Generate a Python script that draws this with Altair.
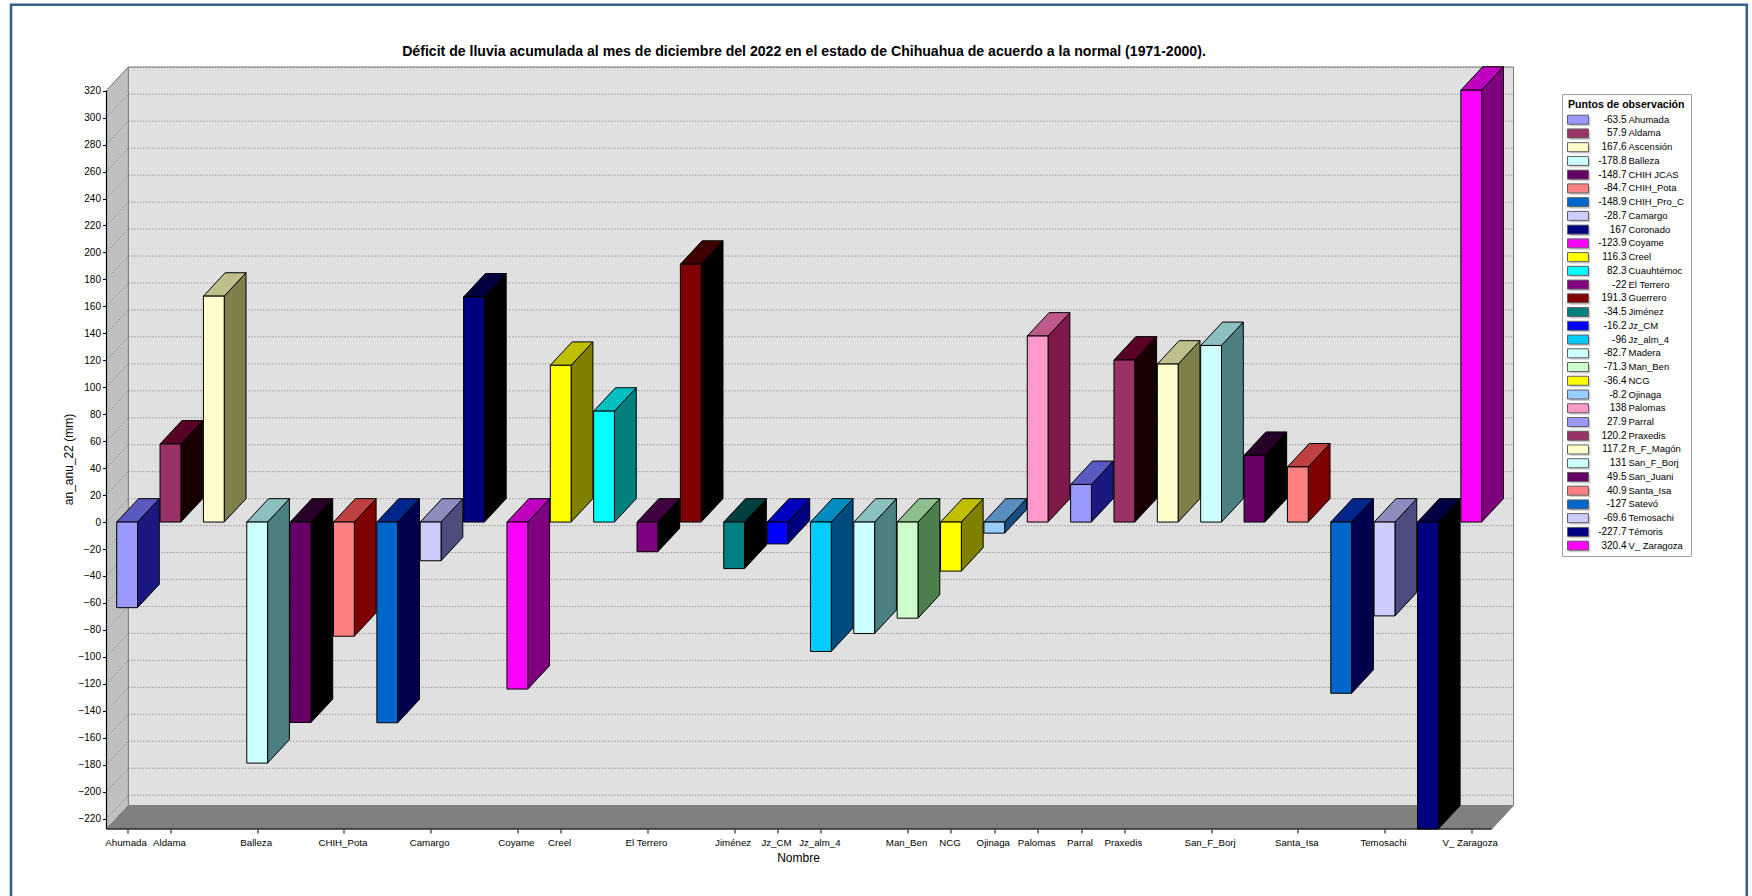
import altair as alt
import pandas as pd

# Station names, anomaly values (mm) and front-face colours
names = ["Ahumada", "Aldama", "Ascensión", "Balleza", "CHIH JCAS", "CHIH_Pota", "CHIH_Pro_C", "Camargo",
         "Coronado", "Coyame", "Creel", "Cuauhtémoc", "El Terrero", "Guerrero", "Jiménez", "Jz_CM",
         "Jz_alm_4", "Madera", "Man_Ben", "NCG", "Ojinaga", "Palomas", "Parral", "Praxedis",
         "R_F_Magón", "San_F_Borj", "San_Juani", "Santa_Isa", "Satevó", "Temosachi", "Témoris", "V_ Zaragoza"]
values = [-63.5, 57.9, 167.6, -178.8, -148.7, -84.7, -148.9, -28.7, 167, -123.9, 116.3, 82.3, -22, 191.3,
          -34.5, -16.2, -96, -82.7, -71.3, -36.4, -8.2, 138, 27.9, 120.2, 117.2, 131, 49.5, 40.9, -127,
          -69.6, -227.7, 320.4]
colors = ["#9999ff", "#993366", "#ffffcc", "#ccffff", "#660066", "#ff8080", "#0066cc", "#ccccff",
          "#000080", "#ff00ff", "#ffff00", "#00ffff", "#800080", "#800000", "#008080", "#0000ff",
          "#00ccff", "#ccffff", "#ccffcc", "#ffff00", "#99ccff", "#ff99cc", "#9999ff", "#993366",
          "#ffffcc", "#ccffff", "#660066", "#ff8080", "#0066cc", "#ccccff", "#000080", "#ff00ff"]
tick_stations = ["Ahumada", "Aldama", "Balleza", "CHIH_Pota", "Camargo", "Coyame", "Creel", "El Terrero",
                 "Jiménez", "Jz_CM", "Jz_alm_4", "Man_Ben", "NCG", "Ojinaga", "Palomas", "Parral",
                 "Praxedis", "San_F_Borj", "Santa_Isa", "Temosachi", "V_ Zaragoza"]
y_ticks = list(range(-220, 321, 20))

TITLE = ("Déficit de lluvia acumulada al mes de diciembre del 2022 en el estado de Chihuahua "
         "de acuerdo a la normal (1971-2000).")
FONT = "Liberation Sans"

# Page geometry of the plot box, which runs from the front-left corner to the back-right corner
LEFT, RIGHT, TOP, BOTTOM = 106.5, 1513.5, 67.0, 829.0
PAGE_W, PAGE_H = 1752, 896
STEP = 43.36            # pixels per station
FIRST_BAR = 116.7       # left edge of the first bar
Y_PER_UNIT = 1.348      # pixels per millimetre
Y_ZERO = 522.06         # page row of the zero line
DEPTH_X, DEPTH_Y = 21.8, 23.4


def col(px):
    """Page column to x-scale units."""
    return (px - FIRST_BAR) / STEP


def row(py):
    """Page row to y-scale units."""
    return (Y_ZERO - py) / Y_PER_UNIT


BAR_W = 20.8 / STEP
DX = DEPTH_X / STEP
DY = DEPTH_Y / Y_PER_UNIT
x_scale = alt.Scale(domain=[col(LEFT), col(RIGHT)], nice=False, zero=False)
y_scale = alt.Scale(domain=[row(BOTTOM), row(TOP)], nice=False, zero=False)


def shade(hex_color, amount):
    """Darken a colour by a fixed amount per channel for the faces in shadow."""
    parts = [int(hex_color[i:i + 2], 16) for i in (1, 3, 5)]
    return "#" + "".join(f"{max(0, p - amount):02x}" for p in parts)


# Long tables for the three visible faces of each column
front, side, top = [], [], []
for i, (name, value, color) in enumerate(zip(names, values, colors)):
    high, low = max(value, 0), min(value, 0)
    front.append(dict(name=name, x=i, x2=i + BAR_W, y=low, y2=high, fill=color))
    for x, shift in ((i + BAR_W, 0), (i + BAR_W + DX, DY)):
        side.append(dict(name=name, x=x, y=low + shift, y2=high + shift, fill=shade(color, 128)))
    for shift_x, shift in ((0, 0), (DX, DY)):
        top.append(dict(name=name, x=i + shift_x, x2=i + BAR_W + shift_x, y=high + shift, fill=shade(color, 64)))

x_axis = alt.Axis(
    values=[names.index(n) + BAR_W / 2 for n in tick_stations],
    labelExpr="[" + ",".join(f"'{n}'" for n in names) + f"][round(datum.value - {BAR_W / 2})]",
    grid=False, domain=False, tickColor="black", tickSize=4, labelFont=FONT, labelFontSize=9.7, labelColor="black",
    labelPadding=4, labelOffset=-1.5, labelFlush=False, labelOverlap=False, title="Nombre", titleFont=FONT,
    titleFontSize=12, titleFontWeight="normal", titleColor="black", titleX=691.5, titlePadding=6,
)
y_axis = alt.Axis(
    values=y_ticks, grid=False, domain=False, tickColor="black", tickSize=4, labelFont=FONT, labelFontSize=10,
    labelColor="black", labelPadding=2, labelOverlap=False, labelFlush=False, title="an_anu_22 (mm)", titleFont=FONT,
    titleFontSize=12, titleFontWeight="normal", titleColor="black", titleX=-31, titleY=392,
)


def X(field="x"):
    return alt.X(f"{field}:Q", scale=x_scale, axis=x_axis, stack=None)


def Y(field="y"):
    return alt.Y(f"{field}:Q", scale=y_scale, axis=y_axis, stack=None)


FILL = alt.Fill("fill:N", scale=None, legend=None)

# Box walls
wall_left = col(LEFT + DEPTH_X)
back_wall = alt.Chart(pd.DataFrame([dict(x=wall_left, x2=col(RIGHT), y=row(BOTTOM - DEPTH_Y), y2=row(TOP))])).mark_rect(
    fill="#e0e0e0", stroke="#808080", strokeWidth=1
).encode(x=X(), x2="x2:Q", y=Y(), y2="y2:Q")
side_wall = alt.Chart(pd.DataFrame([
    dict(x=col(LEFT), y=row(BOTTOM), y2=row(TOP + DEPTH_Y)),
    dict(x=wall_left, y=row(BOTTOM - DEPTH_Y), y2=row(TOP)),
])).mark_area(fill="#c0c0c0", stroke="#808080", strokeWidth=1).encode(x=X(), y=Y(), y2="y2:Q")
floor = alt.Chart(pd.DataFrame([
    dict(x=col(LEFT), x2=col(RIGHT - DEPTH_X), y=row(BOTTOM)),
    dict(x=wall_left, x2=col(RIGHT), y=row(BOTTOM - DEPTH_Y)),
])).mark_area(orient="horizontal", fill="#808080", stroke="#808080", strokeWidth=1).encode(
    x=X(), x2="x2:Q", y=Y()
)

# Dotted guide lines on the back wall and the side wall
back_grid = alt.Chart(pd.DataFrame([dict(x=wall_left, x2=col(RIGHT), y=v + DY) for v in y_ticks])).mark_rule(
    color="#606060", strokeWidth=0.8, strokeDash=[1, 2]
).encode(x=X(), x2="x2:Q", y=Y())
side_grid = alt.Chart(pd.DataFrame([dict(x=col(LEFT), x2=wall_left, y=v, y2=v + DY) for v in y_ticks])).mark_rule(
    color="#707070", strokeWidth=0.8, strokeDash=[1, 2]
).encode(x=X(), x2="x2:Q", y=Y(), y2="y2:Q")

# Column faces
side_faces = alt.Chart(pd.DataFrame(side)).mark_area(stroke="#000000", strokeWidth=1).encode(
    x=X(), y=Y(), y2="y2:Q", fill=FILL, detail="name:N"
)
top_faces = alt.Chart(pd.DataFrame(top)).mark_area(orient="horizontal", stroke="#000000", strokeWidth=1).encode(
    x=X(), x2="x2:Q", y=Y(), fill=FILL, detail="name:N"
)
front_faces = alt.Chart(pd.DataFrame(front)).mark_rect(stroke="#000000", strokeWidth=1).encode(
    x=X(), x2="x2:Q", y=Y(), y2="y2:Q", fill=FILL
)

# Axis lines stop at the front edge of the box
y_line = alt.Chart(pd.DataFrame([dict(x=col(LEFT), y=row(BOTTOM), y2=320)])).mark_rule(
    color="black", strokeWidth=1.2
).encode(x=X(), y=Y(), y2="y2:Q")
x_line = alt.Chart(pd.DataFrame([dict(x=col(LEFT), x2=col(RIGHT - DEPTH_X), y=row(BOTTOM))])).mark_rule(
    color="black", strokeWidth=1.2
).encode(x=X(), x2="x2:Q", y=Y())

# Figure heading, written as a text mark so it sits at a fixed spot under the frame
heading = alt.Chart(pd.DataFrame([dict(x=col(804), y=row(52), t=TITLE)])).mark_text(
    font=FONT, fontSize=14.1, fontWeight="bold", align="center", baseline="middle", color="black"
).encode(x=X(), y=Y(), text="t:N")

# Legend box with one row per station
ROW0, ROW_STEP = 119.7, 13.74
legend = pd.DataFrame([
    dict(name=n, label=f"{v:g}", fill=c, y=row(ROW0 + k * ROW_STEP))
    for k, (n, v, c) in enumerate(zip(names, values, colors))
])
legend["sy"] = legend["y"] + 4.5 / Y_PER_UNIT
legend["sy2"] = legend["y"] - 4.5 / Y_PER_UNIT
legend["x"] = col(1567.5)
legend["x2"] = col(1588.5)
legend["vx"] = col(1626.5)
legend["nx"] = col(1628.5)
legend["shx"] = col(1569.5)
legend["shx2"] = col(1590.5)
legend["shy"] = legend["sy"] - 2 / Y_PER_UNIT
legend["shy2"] = legend["sy2"] - 2 / Y_PER_UNIT

legend_box = alt.Chart(pd.DataFrame([dict(x=col(1562.5), x2=col(1691.5), y=row(94.5), y2=row(556.5))])).mark_rect(
    fill="white", stroke="#a0a0a0", strokeWidth=1
).encode(x=X(), x2="x2:Q", y=Y(), y2="y2:Q")
legend_title = alt.Chart(pd.DataFrame([dict(x=col(1568), y=row(104.5), t="Puntos de observación")])).mark_text(
    font=FONT, fontSize=10.6, fontWeight="bold", align="left", baseline="middle", color="black"
).encode(x=X(), y=Y(), text="t:N")
legend_shadow = alt.Chart(legend).mark_rect(fill="#d0d0d0").encode(
    x=X("shx"), x2="shx2:Q", y=Y("shy"), y2="shy2:Q",
)
legend_swatch = alt.Chart(legend).mark_rect(stroke="#606060", strokeWidth=1).encode(
    x=X(), x2="x2:Q", y=Y("sy"), y2="sy2:Q", fill=FILL
)
legend_value = alt.Chart(legend).mark_text(
    font=FONT, fontSize=10, align="right", baseline="middle", color="black"
).encode(x=X("vx"), y=Y(), text="label:N")
legend_name = alt.Chart(legend).mark_text(
    font=FONT, fontSize=9.5, align="left", baseline="middle", color="black"
).encode(x=X("nx"), y=Y(), text="name:N")

# Blue frame around the whole figure
frame = alt.Chart(pd.DataFrame([{"a": 0}])).mark_rect(fill="transparent", stroke="#36618a", strokeWidth=2.6).encode(
    x=alt.value(11 - LEFT), x2=alt.value(1746.8 - LEFT), y=alt.value(4.7 - TOP), y2=alt.value(PAGE_H + 20 - TOP)
)

chart = alt.layer(
    frame, back_wall, side_wall, floor, back_grid, side_grid,
    side_faces, top_faces, front_faces, y_line, x_line, heading,
    legend_box, legend_title, legend_shadow, legend_swatch, legend_value, legend_name,
).properties(
    width=RIGHT - LEFT,
    height=BOTTOM - TOP,
    autosize=alt.AutoSizeParams(type="none"),
    padding={"left": LEFT, "top": TOP, "right": PAGE_W - RIGHT, "bottom": PAGE_H - BOTTOM},
    background="white",
).configure_view(stroke=None)

chart.save("out.html", embed_options={"renderer": "svg", "actions": False})
